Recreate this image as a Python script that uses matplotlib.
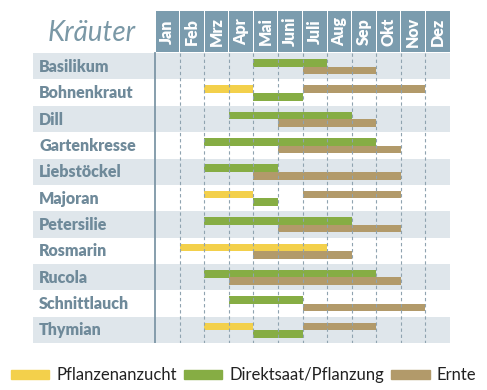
import matplotlib
matplotlib.use("Agg")
import matplotlib.pyplot as plt
from matplotlib.patches import Patch

# herbs (top to bottom) and month names
herbs = ["Basilikum", "Bohnenkraut", "Dill", "Gartenkresse", "Liebstöckel",
         "Majoran", "Petersilie", "Rosmarin", "Rucola", "Schnittlauch", "Thymian"]
months = ["Jan", "Feb", "Mrz", "Apr", "Mai", "Juni", "Juli", "Aug", "Sep",
          "Okt", "Nov", "Dez"]

# (herb, start month index, end month index, lane) lane 0 = top, 1 = bottom
anzucht = [("Bohnenkraut", 2, 4, 0), ("Majoran", 2, 4, 0),
           ("Rosmarin", 1, 7, 0), ("Thymian", 2, 4, 0)]
direkt = [("Basilikum", 4, 7, 0), ("Bohnenkraut", 4, 6, 1), ("Dill", 3, 8, 0),
          ("Gartenkresse", 2, 9, 0), ("Liebstöckel", 2, 5, 0),
          ("Majoran", 4, 5, 1), ("Petersilie", 2, 8, 0), ("Rucola", 2, 9, 0),
          ("Schnittlauch", 3, 6, 0), ("Thymian", 4, 6, 1)]
ernte = [("Basilikum", 6, 9, 1), ("Bohnenkraut", 6, 11, 0), ("Dill", 5, 9, 1),
         ("Gartenkresse", 5, 10, 1), ("Liebstöckel", 4, 10, 1),
         ("Majoran", 6, 10, 0), ("Petersilie", 5, 10, 1), ("Rosmarin", 4, 8, 1),
         ("Rucola", 3, 10, 1), ("Schnittlauch", 6, 11, 1), ("Thymian", 6, 9, 0)]

YELLOW = "#f3d04b"
GREEN = "#86ad44"
BROWN = "#b29a6a"
HEAD = "#7b9cae"
ROWBG = "#dfe6eb"
TXT = "#6f8a9a"

plt.rcParams['font.family'] = ['Lato', 'DejaVu Sans']

fig = plt.figure(figsize=(4.87, 3.90), dpi=100)
ax = fig.add_axes([33 / 487, (390 - 343) / 390, 417 / 487, 332 / 390])
left = -122 / 24.58
head = -42 / 26.27
ax.set_xlim(left, 12)
ax.set_ylim(11, head)
ax.axis("off")

# row backgrounds and labels
for i, h in enumerate(herbs):
    if i % 2 == 0:
        ax.axhspan(i, i + 1, xmin=0, xmax=1, color=ROWBG, lw=0, zorder=0)
    ax.text(left + 0.25, i + 0.52, h, color=TXT, fontsize=11.5,
            fontweight="heavy", va="center", ha="left")

# header
for m, name in enumerate(months):
    ax.bar(m + 0.5, head + 0.05, bottom=0 - 0.05, width=0.96, color=HEAD, lw=0, zorder=1)
    ax.text(m + 0.5, head / 2 - 0.02, name, rotation=90, color="white",
            fontsize=11.5, fontweight="heavy", ha="center", va="center")
ax.text(left / 2 - 0.1, head / 2 + 0.05, "Kräuter", color="#7a98a6", fontsize=20,
        style="italic", ha="center", va="center")

# grid lines
ax.plot([0, 0], [0, 11], color="#7d96a6", lw=1.3, zorder=3)
for m in range(1, 12):
    ax.plot([m, m], [0, 11], color="#8fa3b0", lw=0.8, ls=(0, (3, 2.5)), zorder=3)

# bars
lane_y = [0.37, 0.655]
for data, col in [(anzucht, YELLOW), (direkt, GREEN), (ernte, BROWN)]:
    for h, a, b, lane in data:
        ax.barh(herbs.index(h) + lane_y[lane], b - a, left=a, height=0.29,
                color=col, lw=0, zorder=2)

handles = [Patch(color=YELLOW), Patch(color=GREEN), Patch(color=BROWN)]
fig.legend(handles, ["Pflanzenanzucht", "Direktsaat/Pflanzung", "Ernte"],
           loc="center", bbox_to_anchor=(0.5, 1 - 375 / 390), ncol=3, frameon=False,
           fontsize=12, handlelength=2.3, handleheight=0.45, handletextpad=0.4,
           columnspacing=0.45, labelcolor="#222222")

fig.savefig("out.png", dpi=100, facecolor="white")
